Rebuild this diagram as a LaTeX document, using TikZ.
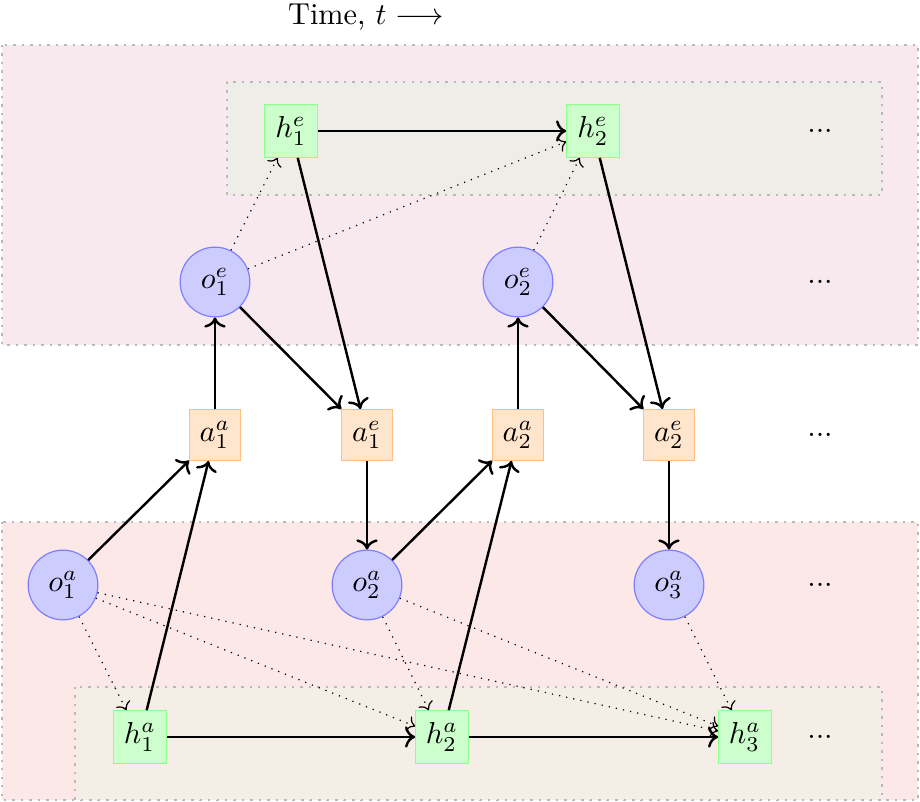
\documentclass[tikz,border=0pt]{standalone}
\usetikzlibrary{arrows.meta}
\definecolor{topouter}{RGB}{248,233,238}
\definecolor{topinner}{RGB}{239,237,232}
\definecolor{botouter}{RGB}{253,232,232}
\definecolor{botinner}{RGB}{244,238,230}
\definecolor{boxline}{RGB}{185,185,185}
\begin{document}
\begin{tikzpicture}[x=0.33pt,y=-0.33pt,
  region/.style={draw=boxline, dotted, thick},
  obs/.style={circle, draw=blue!50, fill=blue!20, minimum size=23pt, inner sep=0pt},
  hid/.style={rectangle, draw=green!45, fill=green!20, minimum size=17.3pt, inner sep=0pt},
  act/.style={rectangle, draw=orange!50, fill=orange!20, minimum size=16.7pt, inner sep=0pt},
  flow/.style={->, thick},
  infer/.style={->, dotted}]
\useasboundingbox (0,0) rectangle (920,802);
% regions
\path[region, fill=topouter] (2,45) rectangle (918,345);
\path[region, fill=topinner] (227,82) rectangle (882,195);
\path[region, fill=botouter] (2,522) rectangle (918,800);
\path[region, fill=botinner] (75,687) rectangle (882,800);
\node (time) at (366,17) {Time, $t\longrightarrow$};
% nodes
\node[hid] (h1e) at (291,131) {$h_1^e$};
\node[hid] (h2e) at (593,131) {$h_2^e$};
\node (d1) at (820,131) {...};
\node[obs] (o1e) at (215,282) {$o_1^e$};
\node[obs] (o2e) at (518,282) {$o_2^e$};
\node (d2) at (820,282) {...};
\node[act] (a1a) at (215,435) {$a_1^a$};
\node[act] (a1e) at (367,435) {$a_1^e$};
\node[act] (a2a) at (518,435) {$a_2^a$};
\node[act] (a2e) at (669,435) {$a_2^e$};
\node (d3) at (820,435) {...};
\node[obs] (o1a) at (63,585) {$o_1^a$};
\node[obs] (o2a) at (367,585) {$o_2^a$};
\node[obs] (o3a) at (669,585) {$o_3^a$};
\node (d4) at (820,585) {...};
\node[hid] (h1a) at (140,737) {$h_1^a$};
\node[hid] (h2a) at (442,737) {$h_2^a$};
\node[hid] (h3a) at (745,737) {$h_3^a$};
\node (d5) at (820,737) {...};
% solid flows
\draw[flow] (h1e) -- (h2e);
\draw[flow] (h1e) -- (a1e);
\draw[flow] (h2e) -- (a2e);
\draw[flow] (o1e) -- (a1e);
\draw[flow] (o2e) -- (a2e);
\draw[flow] (a1a) -- (o1e);
\draw[flow] (a2a) -- (o2e);
\draw[flow] (a1e) -- (o2a);
\draw[flow] (a2e) -- (o3a);
\draw[flow] (o1a) -- (a1a);
\draw[flow] (h1a) -- (a1a);
\draw[flow] (o2a) -- (a2a);
\draw[flow] (h2a) -- (a2a);
\draw[flow] (h1a) -- (h2a);
\draw[flow] (h2a) -- (h3a);
% dotted inference
\draw[infer] (o1e) -- (h1e);
\draw[infer] (o1e) -- (h2e);
\draw[infer] (o2e) -- (h2e);
\draw[infer] (o1a) -- (h1a);
\draw[infer] (o1a) -- (h2a);
\draw[infer] (o1a) -- (h3a);
\draw[infer] (o2a) -- (h2a);
\draw[infer] (o2a) -- (h3a);
\draw[infer] (o3a) -- (h3a);
\end{tikzpicture}
\end{document}
